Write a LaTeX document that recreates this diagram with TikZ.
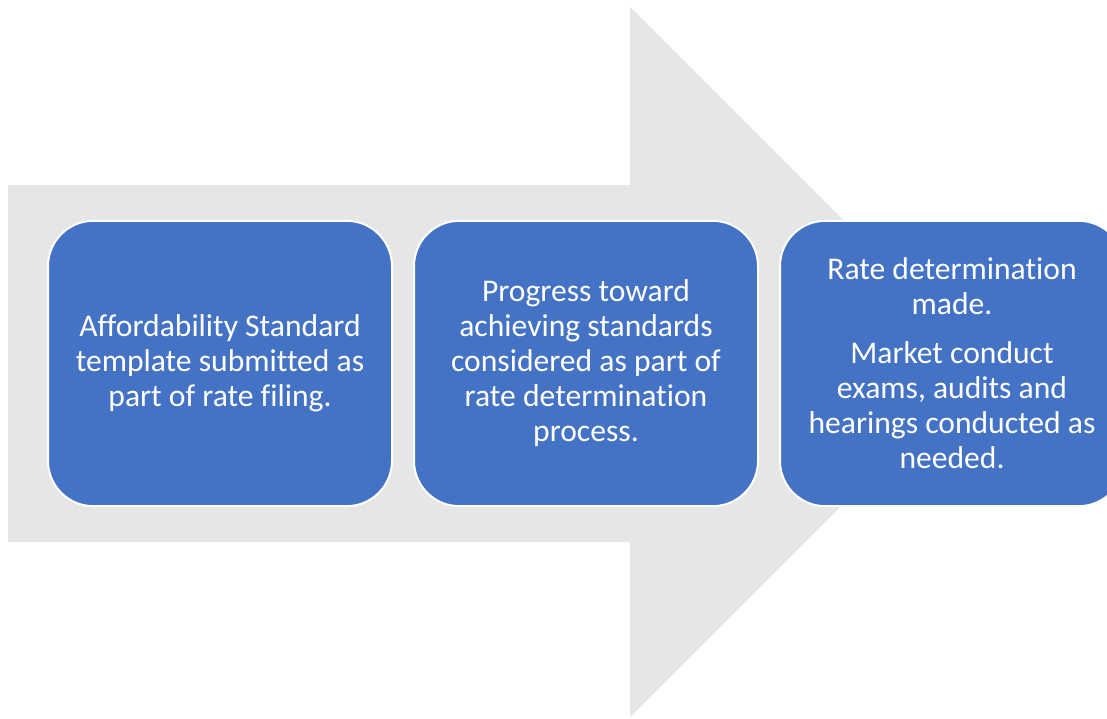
\documentclass[tikz,border=0pt]{standalone}
\usepackage{fontspec}
\setmainfont{Carlito}[Ligatures=NoCommon]
\usetikzlibrary{positioning}
\definecolor{stageblue}{HTML}{4472C4}
\definecolor{arrowgray}{HTML}{E6E6E6}
\tikzset{
  stage/.style={draw=white, line width=1.5pt, fill=stageblue, rounded corners=34pt,
    minimum width=258pt, minimum height=214pt, inner sep=0pt, align=center,
    text=white, font=\fontsize{23.7}{26.25}\selectfont},
}
\begin{document}
\begin{tikzpicture}[x=0.75pt,y=0.75pt]
      \clip (0,0) rectangle (1107,718);
      % big arrow behind the stages
      \path[fill=arrowgray] (8,533) -- (630,533) -- (630,711) -- (985,356) -- (630,1) -- (630,176) -- (8,176) -- cycle;

      \node[stage] (filing) at (220,354.5) {Affordability Standard\\template submitted as\\part of rate filing.};
      \node[stage, right=15pt of filing] (review) {Progress toward\\achieving standards\\considered as part of\\rate determination\\process.};
      \node[stage, right=15pt of review] (decision) {Rate determination\\made.\\[10.5pt]Market conduct\\exams, audits and\\hearings conducted as\\needed.};
\end{tikzpicture}
\end{document}
